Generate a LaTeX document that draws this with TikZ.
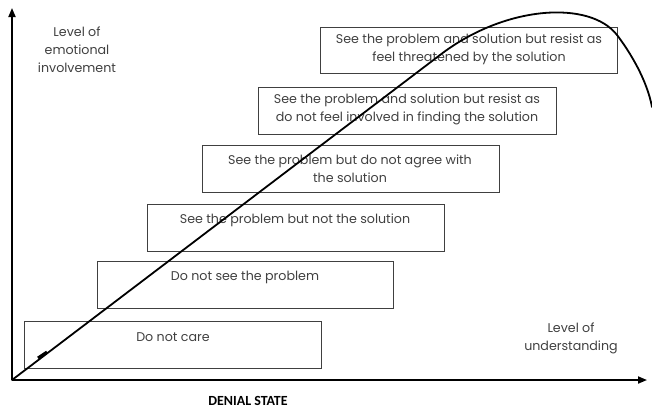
\documentclass[tikz,border=0pt]{standalone}
\usepackage{fontspec}
\setmainfont{Poppins}
\newfontfamily\dsfont{Carlito}
\usetikzlibrary{arrows.meta}
\tikzset{
  stepbox/.style={draw=black!75, line width=0.9bp, rectangle},
  lbl/.style={font=\fontsize{12.7}{18}\selectfont, text=black!75, align=center, inner sep=0pt},
  axis/.style={line width=1.8bp, -{Triangle[length=9bp,width=7bp]}},
  curve/.style={line width=1.8bp, line cap=round}
}
\begin{document}
\begin{tikzpicture}[x=1bp,y=-1bp]
\useasboundingbox (0,0) rectangle (652,409);
% boxes
\node[stepbox, minimum width=297bp, minimum height=47bp, anchor=north west] (b1) at (24,321) {};
\node[stepbox, minimum width=296bp, minimum height=47bp, anchor=north west] (b2) at (97,261) {};
\node[stepbox, minimum width=297bp, minimum height=47bp, anchor=north west] (b3) at (147,204) {};
\node[stepbox, minimum width=297bp, minimum height=47bp, anchor=north west] (b4) at (202,145) {};
\node[stepbox, minimum width=298bp, minimum height=47bp, anchor=north west] (b5) at (258,87) {};
\node[stepbox, minimum width=297bp, minimum height=46bp, anchor=north west] (b6) at (320,27) {};
% texts
\node[lbl] (t1) at (173,337) {Do not care};
\node[lbl] (t2) at (245,277) {Do not see the problem};
\node[lbl] (t3) at (295,220) {See the problem but not the solution};
\node[lbl] (t4) at (350,169) {See the problem but do not agree with\\the solution};
\node[lbl] (t5) at (407,109) {See the problem and solution but resist as\\do not feel involved in finding the solution};
\node[lbl] (t6) at (469,49) {See the problem and solution but resist as\\feel threatened by the solution};
\node[lbl] (ly) at (77,50) {Level of\\emotional\\involvement};
\node[lbl] (lx) at (571,338) {Level of\\understanding};
\node[font=\fontsize{14}{16}\selectfont\dsfont\bfseries, inner sep=0pt] (ds) at (248,401) {DENIAL STATE};
% axes
\coordinate (o) at (12,380);
\coordinate (ytop) at (12,8);
\coordinate (xend) at (647,380);
\draw[axis] (o) -- (ytop);
\draw[axis] (o) -- (xend);
% curve
\coordinate (c1) at (440,55);
\coordinate (c2) at (617,35);
\coordinate (c3) at (652,107);
\draw[curve] (o) -- (c1) .. controls (505,5) and (590,0) .. (c2) .. controls (630,52) and (647,80) .. (c3);
\draw[line width=3bp] (38,358) -- (47,352);
\end{tikzpicture}
\end{document}
